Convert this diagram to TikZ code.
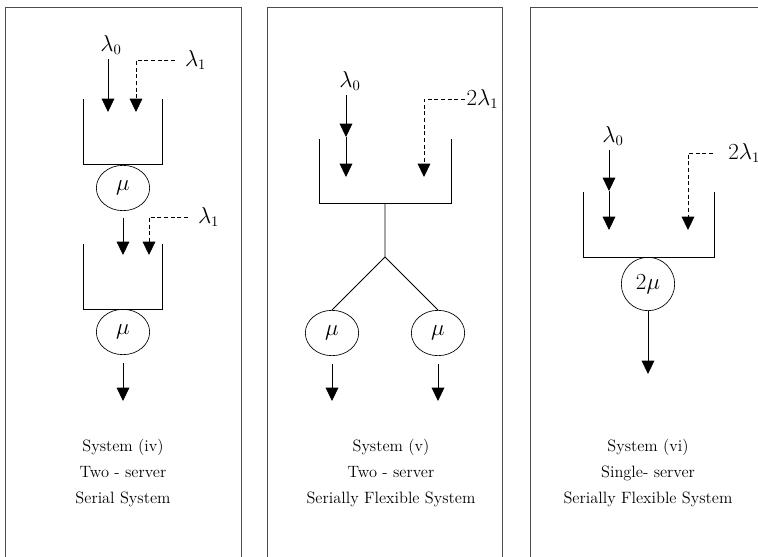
\documentclass[tikz,border=0pt]{standalone}
\usepackage{amsmath}
\usetikzlibrary{arrows.meta,positioning,shapes.geometric}

\tikzset{
  frame/.style={draw=black!70, line width=0.6pt},
  flow/.style={-{Triangle[width=9.5pt,length=10pt]}, line width=0.6pt},
  extra/.style={flow, dash pattern=on 3pt off 2pt},
  queue/.style={line width=0.6pt},
  rate/.style={font=\fontsize{16}{19}\selectfont},
  server/.style={draw, ellipse, rate, line width=0.5pt, minimum width=40pt, minimum height=34pt, inner sep=0pt},
  caption/.style={align=center, font=\fontsize{12.3}{19.5}\selectfont}
}

\begin{document}
\begin{tikzpicture}[x=0.75pt, y=-0.75pt]
  \useasboundingbox (0,0) rectangle (758,557);

  % three panels, open at the bottom
  \draw[frame] (5,557) |- (241,7) -- (241,557);
  \draw[frame] (267,557) |- (502,7) -- (502,557);
  \draw[frame] (530,557) |- (758,7);

  % system (iv): two queues in series
  \node[rate] (l0a) at (111,45) {$\lambda_0$};
  \coordinate (t1a) at (108,112);
  \coordinate (t1b) at (136,112);
  \coordinate (d1a) at (175,60);
  \node[rate, right=4pt of d1a] (l1a) {$\lambda_1$};
  \draw[flow] (l0a.south -| t1a) -- (t1a);
  \draw[extra] (d1a) -| (t1b);
  \draw[queue] (83,99) |- (162,164) -- (162,99);
  \node[server] (s1a) at (123,188) {$\mu$};

  \coordinate (t1c) at (123,255);
  \coordinate (t1d) at (149,255);
  \coordinate (d1b) at (188,217);
  \node[rate, right=4pt of d1b] (l1b) {$\lambda_1$};
  \draw[flow, shorten <=5pt] (s1a) -- (t1c);
  \draw[extra] (d1b) -| (t1d);
  \draw[queue] (83,244) |- (162,309) -- (162,244);
  \node[server] (s1b) at (123,332) {$\mu$};
  \coordinate (o1) at (123,401);
  \draw[flow, shorten <=6pt] (s1b) -- (o1);
  \node[caption] (c1) at (123,473) {System (iv)\\Two - server\\Serial System};

  % system (v): one queue, two servers
  \node[rate] (l0b) at (350,81) {$\lambda_0$};
  \coordinate (m2) at (346,137);
  \coordinate (t2a) at (346,177);
  \coordinate (t2b) at (424,177);
  \coordinate (d2) at (465,99);
  \node[rate, anchor=west, inner sep=1pt] (l1c) at (d2) {$2\lambda_1$};
  \draw[flow] (l0b.south -| m2) -- (m2);
  \draw[flow] (m2) -- (t2a);
  \draw[extra] (d2) -| (t2b);
  \draw[queue] (319,139) |- (451,203) -- (451,139);
  \coordinate (q2) at (385,203);
  \coordinate (fork) at (385,257);
  \node[server] (s2a) at (332,333) {$\mu$};
  \node[server] (s2b) at (438,333) {$\mu$};
  \draw[queue] (q2) -- (fork) (fork) -- (s2a.north) (fork) -- (s2b.north);
  \coordinate (o2a) at (332,401);
  \coordinate (o2b) at (438,401);
  \draw[flow, shorten <=6pt] (s2a) -- (o2a);
  \draw[flow, shorten <=6pt] (s2b) -- (o2b);
  \node[caption] (c2) at (391,473) {System (v)\\Two - server\\Serially Flexible System};

  % system (vi): one queue, one fast server
  \node[rate] (l0c) at (613,136) {$\lambda_0$};
  \coordinate (m3) at (609,191);
  \coordinate (t3a) at (609,230);
  \coordinate (t3b) at (688,230);
  \coordinate (d3) at (713,153);
  \node[rate, right=8pt of d3] (l1d) {$2\lambda_1$};
  \draw[flow] (l0c.south -| m3) -- (m3);
  \draw[flow] (m3) -- (t3a);
  \draw[extra] (d3) -| (t3b);
  \draw[queue] (583,192) |- (714,257) -- (714,192);
  \node[server, circle, minimum size=40pt] (s3) at (648,284) {$2\mu$};
  \coordinate (o3) at (648,374);
  \draw[flow] (s3) -- (o3);
  \node[caption] (c3) at (648,473) {System (vi)\\Single- server\\Serially Flexible System};
\end{tikzpicture}
\end{document}
